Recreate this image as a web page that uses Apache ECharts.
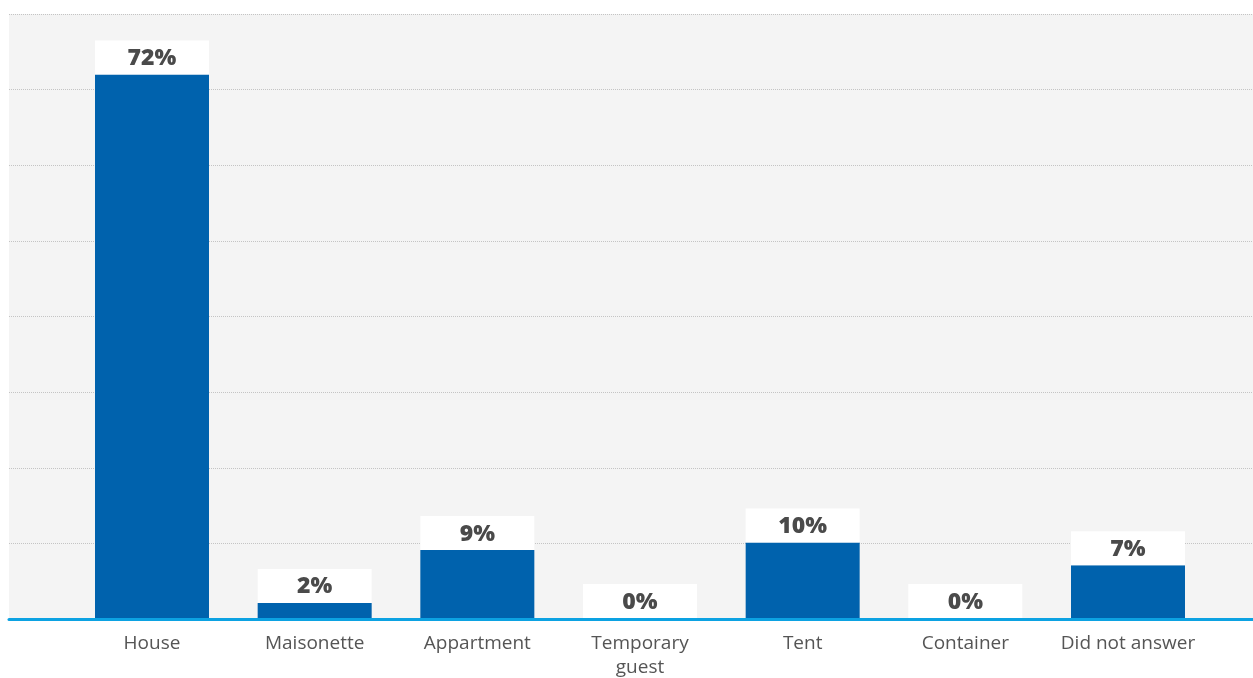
<!DOCTYPE html>
<html>
<head>
<meta charset="utf-8">
<script src="https://cdn.jsdelivr.net/npm/echarts@6/dist/echarts.min.js"></script>
<style>
  html, body { margin: 0; padding: 0; background: #ffffff; }
  #chart { width: 1253px; height: 678px; }
</style>
</head>
<body>
<div id="chart"></div>
<script>
// Housing type of respondents (share, %)
const categories = ['House', 'Maisonette', 'Appartment', 'Temporary\nguest', 'Tent', 'Container', 'Did not answer'];
const shares = [72, 2, 9, 0, 10, 0, 7];
const yTicks = [0, 10, 20, 30, 40, 50, 60, 70, 80];

const FONT = '"Open Sans", "Noto Sans", sans-serif';
const GRID_TOP = 14;

const chart = echarts.init(document.getElementById('chart'), null, { renderer: 'canvas' });

chart.setOption({
  animation: false,
  backgroundColor: '#ffffff',
  grid: [
    // full-width panel: grey background, dotted guides and the blue baseline
    { left: 9, right: 0, top: GRID_TOP, bottom: 58.7, show: true,
      backgroundColor: '#f4f4f4', borderWidth: 0, containLabel: false, outerBoundsMode: 'none' },
    // bars
    { left: 70.67, right: 43.67, top: GRID_TOP, bottom: 60,
      containLabel: false, outerBoundsMode: 'none' }
  ],
  xAxis: [
    { gridIndex: 0, type: 'value', min: 0, max: 1,
      axisLine: { show: true, onZero: false, lineStyle: { color: '#0ca2e2', width: 3 } },
      axisTick: { show: false }, axisLabel: { show: false }, splitLine: { show: false } },
    { gridIndex: 1, type: 'category', data: categories,
      axisLine: { show: false }, axisTick: { show: false },
      axisLabel: { color: '#555555', fontFamily: FONT, fontSize: 19, lineHeight: 24, margin: 14, interval: 0 } }
  ],
  yAxis: [
    { gridIndex: 0, type: 'value', min: yTicks[0], max: yTicks[yTicks.length - 1], interval: yTicks[1] - yTicks[0],
      axisLine: { show: false }, axisTick: { show: false }, axisLabel: { show: false },
      splitLine: { show: true, lineStyle: { color: '#c4c4c4', width: 1, type: [1, 1] } } },
    { gridIndex: 1, type: 'value', min: yTicks[0], max: yTicks[yTicks.length - 1],
      axisLine: { show: false }, axisTick: { show: false }, axisLabel: { show: false },
      splitLine: { show: false } }
  ],
  series: [{
    type: 'bar',
    xAxisIndex: 1,
    yAxisIndex: 1,
    data: shares,
    barWidth: 114,
    itemStyle: { color: '#0062ad' },
    label: {
      show: true,
      position: 'top',
      distance: 0,
      formatter: p => p.value + '%',
      backgroundColor: '#ffffff',
      width: 114,
      height: 32,
      lineHeight: 32,
      padding: [2, 0, 0, 0],
      align: 'center',
      color: '#4a4a4a',
      fontFamily: FONT,
      fontWeight: 800,
      fontSize: 23
    }
  }]
});
</script>
</body>
</html>
